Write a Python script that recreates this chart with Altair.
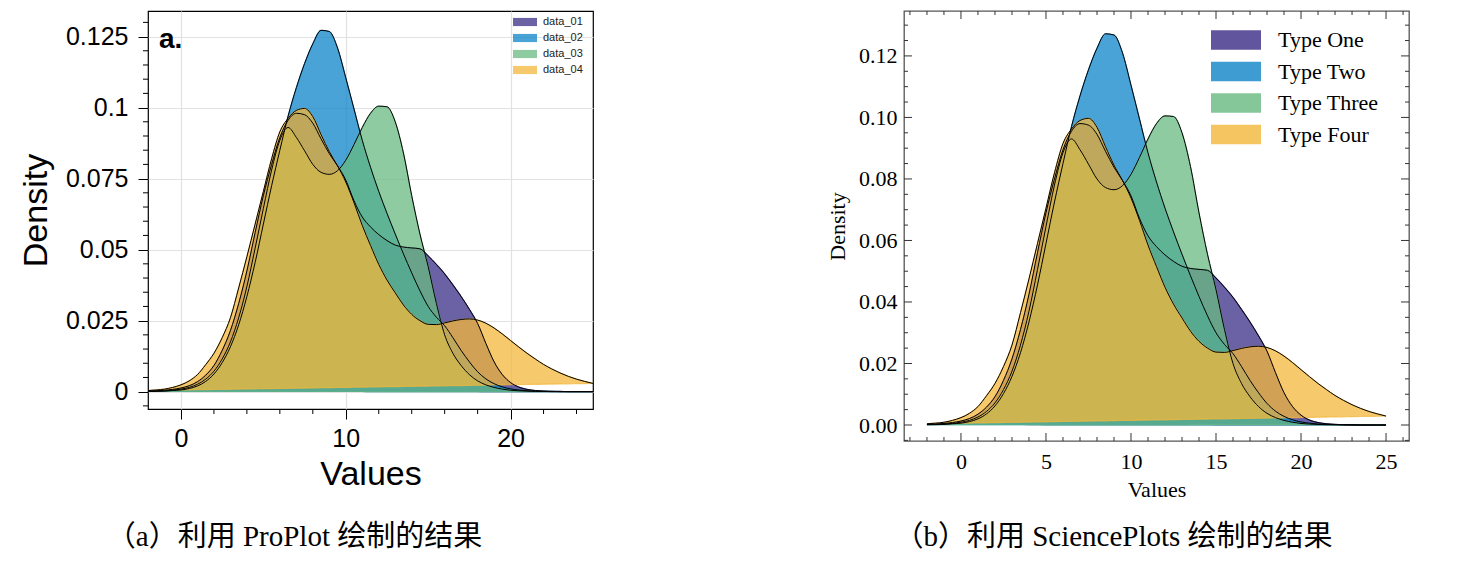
import altair as alt
import pandas as pd

# ---------------- data ----------------
x_vals = [-2.0, -1.5, -1.0, -0.5, 0.0, 0.5, 1.0, 1.5, 2.0, 2.5,
          3.0, 3.5, 4.0, 4.5, 5.0, 5.5, 6.0, 6.5, 7.0, 7.5,
          8.0, 8.5, 9.0, 9.5, 10.0, 10.5, 11.0, 11.5, 12.0, 12.5,
          13.0, 13.5, 14.0, 14.5, 15.0, 15.5, 16.0, 16.5, 17.0, 17.5,
          18.0, 18.5, 19.0, 19.5, 20.0, 20.5, 21.0, 21.5, 22.0, 22.5,
          23.0, 23.5, 24.0, 24.5, 25.0]

type_one = [0.0002, 0.0003, 0.0005, 0.0008, 0.0013, 0.0021, 0.0035, 0.0058, 0.0092, 0.0145,
            0.0215, 0.0310, 0.0425, 0.0560, 0.0690, 0.0800, 0.0895, 0.0955, 0.0980, 0.0975,
            0.0945, 0.0890, 0.0838, 0.0795, 0.0745, 0.0672, 0.0615, 0.0580, 0.0553, 0.0532,
            0.0516, 0.0509, 0.0506, 0.0503, 0.0478, 0.0448, 0.0415, 0.0376, 0.0335, 0.0290,
            0.0240, 0.0170, 0.0105, 0.0060, 0.0032, 0.0016, 0.0008, 0.0004, 0.0002, 0.0001,
            0.0001, 0.0000, 0.0000, 0.0000, 0.0000]

type_two = [0.0001, 0.0001, 0.0002, 0.0004, 0.0006, 0.0011, 0.0020, 0.0036, 0.0062, 0.0102,
            0.0158, 0.0235, 0.0335, 0.0455, 0.0590, 0.0725, 0.0850, 0.0970, 0.1070, 0.1155,
            0.1225, 0.1272, 0.1268, 0.1210, 0.1105, 0.0995, 0.0885, 0.0790, 0.0705, 0.0628,
            0.0555, 0.0485, 0.0418, 0.0355, 0.0300, 0.0262, 0.0232, 0.0190, 0.0145, 0.0105,
            0.0070, 0.0045, 0.0028, 0.0017, 0.0010, 0.0006, 0.0003, 0.0002, 0.0001, 0.0001,
            0.0000, 0.0000, 0.0000, 0.0000, 0.0000]

type_three = [0.0001, 0.0002, 0.0003, 0.0005, 0.0009, 0.0015, 0.0026, 0.0044, 0.0072, 0.0115,
              0.0175, 0.0260, 0.0370, 0.0505, 0.0645, 0.0780, 0.0885, 0.0930, 0.0895, 0.0848,
              0.0800, 0.0772, 0.0765, 0.0778, 0.0815, 0.0870, 0.0930, 0.0980, 0.1005, 0.1003,
              0.0950, 0.0840, 0.0690, 0.0555, 0.0440, 0.0310, 0.0200, 0.0135, 0.0092, 0.0060,
              0.0038, 0.0024, 0.0015, 0.0009, 0.0005, 0.0003, 0.0002, 0.0001, 0.0001, 0.0000,
              0.0000, 0.0000, 0.0000, 0.0000, 0.0000]

type_four = [0.0004, 0.0006, 0.0009, 0.0015, 0.0024, 0.0038, 0.0060, 0.0095, 0.0135, 0.0190,
             0.0260, 0.0365, 0.0475, 0.0590, 0.0705, 0.0820, 0.0915, 0.0962, 0.0990, 0.0997,
             0.0968, 0.0905, 0.0845, 0.0795, 0.0738, 0.0665, 0.0585, 0.0515, 0.0448, 0.0393,
             0.0348, 0.0305, 0.0272, 0.0250, 0.0237, 0.0236, 0.0242, 0.0249, 0.0254, 0.0256,
             0.0252, 0.0241, 0.0224, 0.0203, 0.0180, 0.0157, 0.0135, 0.0115, 0.0096, 0.0080,
             0.0066, 0.0054, 0.0044, 0.0036, 0.0029]

series_values = [type_one, type_two, type_three, type_four]
names_a = ["data_01", "data_02", "data_03", "data_04"]
names_b = ["Type One", "Type Two", "Type Three", "Type Four"]
fill_colors = ["#3a2c87", "#0e84c8", "#68ba80", "#f3b73b"]

# tick positions
a_x_major = [0, 10, 20]
a_x_minor = [2, 4, 6, 8, 12, 14, 16, 18, 22, 24]
a_y_major = [0, 0.025, 0.05, 0.075, 0.1, 0.125]
a_y_minor = [-0.005, 0.005, 0.01, 0.015, 0.02, 0.03, 0.035, 0.04, 0.045, 0.055, 0.06,
             0.065, 0.07, 0.08, 0.085, 0.09, 0.095, 0.105, 0.11, 0.115, 0.12, 0.13]
b_x_major = [0, 5, 10, 15, 20, 25]
b_x_minor = [-3, -2, -1, 1, 2, 3, 4, 6, 7, 8, 9, 11, 12, 13, 14, 16, 17, 18, 19,
             21, 22, 23, 24, 26]
b_y_major = [0, 0.02, 0.04, 0.06, 0.08, 0.10, 0.12]
b_y_minor = [-0.005, 0.005, 0.01, 0.015, 0.025, 0.03, 0.035, 0.045, 0.05, 0.055,
             0.065, 0.07, 0.075, 0.085, 0.09, 0.095, 0.105, 0.11, 0.115, 0.125, 0.13]

caption_a = "（a）利用 ProPlot 绘制的结果"
caption_b = "（b）利用 SciencePlots 绘制的结果"

SANS = "Liberation Sans"
SERIF = "Liberation Serif"
CAP_FONT = "Liberation Serif, Noto Sans CJK SC"


def make_df(names):
    rows = []
    x0, x1 = x_vals[0], x_vals[-1]
    for name, ys in zip(names, series_values):
        y0, y1 = ys[0], ys[-1]
        for x, y in zip(x_vals, ys):
            # polygon closes from the last point back to the first one
            base = y0 + (y1 - y0) * (x - x0) / (x1 - x0)
            rows.append({"x": x, "density": y, "base": base, "series": name})
    return pd.DataFrame(rows)


def density_layers(names, xs, ys, xaxis, yaxis, legend, stroke_legend):
    df = make_df(names)
    cs = alt.Scale(domain=names, range=fill_colors)
    X = alt.X("x:Q", scale=xs, axis=xaxis)
    Y = alt.Y("density:Q", scale=ys, axis=yaxis)
    layers = []
    for name in names:
        layers.append(
            alt.Chart(df)
            .transform_filter(alt.datum.series == name)
            .mark_area(interpolate="monotone", fillOpacity=0.75,
                       strokeOpacity=0.75, strokeWidth=1.2)
            .encode(x=X, y=Y, y2="base:Q",
                    color=alt.Color("series:N", scale=cs, legend=legend),
                    stroke=alt.Stroke("series:N", scale=cs, legend=stroke_legend))
        )
    layers.append(
        alt.Chart(df)
        .mark_line(interpolate="monotone", color="black", strokeWidth=1)
        .encode(x=X, y=Y, detail="series:N")
    )
    return layers


def xtick_rule(vals, y0, y1, xs, xaxis, color):
    return (alt.Chart(pd.DataFrame({"x": vals}))
            .mark_rule(color=color, strokeWidth=1)
            .encode(x=alt.X("x:Q", scale=xs, axis=xaxis),
                    y=alt.value(y0), y2=alt.value(y1)))


def ytick_rule(vals, x0, x1, ys, yaxis, color):
    return (alt.Chart(pd.DataFrame({"density": vals}))
            .mark_rule(color=color, strokeWidth=1)
            .encode(y=alt.Y("density:Q", scale=ys, axis=yaxis),
                    x=alt.value(x0), x2=alt.value(x1)))


# ---------------- panel (a): ProPlot style ----------------
A_W, A_H = 445, 398
xs_a = alt.Scale(domain=[-2, 25], nice=False, zero=False)
ys_a = alt.Scale(domain=[-0.0061, 0.134], nice=False, zero=False)
xaxis_a = alt.Axis(values=a_x_major, title="Values", grid=True, gridColor="#e2e2e2",
                   gridWidth=1.2, domain=False, ticks=True, tickSize=10, tickColor="black",
                   tickWidth=1, labelFont=SANS, labelFontSize=25, labelColor="black",
                   labelPadding=7, titleFont=SANS, titleFontSize=34,
                   titleFontWeight="normal", titleColor="black", titlePadding=6)
yaxis_a = alt.Axis(values=a_y_major, labelExpr="'' + datum.value", title="Density",
                   grid=True, gridColor="#e2e2e2", gridWidth=1.2, domain=False,
                   ticks=True, tickSize=10, tickColor="black", tickWidth=1,
                   labelFont=SANS, labelFontSize=25, labelColor="black",
                   labelPadding=10, titleFont=SANS, titleFontSize=34,
                   titleFontWeight="normal", titleColor="black", titlePadding=12)
legend_a = alt.Legend(title=None, orient="none", legendX=371, legendY=5,
                      symbolType="M-2,-0.68L2,-0.68L2,0.68L-2,0.68Z", symbolSize=144,
                      symbolStrokeWidth=0, symbolOpacity=0.75,
                      labelFont=SANS, labelFontSize=11, labelColor="#222",
                      labelOffset=12, rowPadding=5, padding=0)

layers_a = density_layers(names_a, xs_a, ys_a, xaxis_a, yaxis_a, legend_a, None)
layers_a += [
    xtick_rule(a_x_minor, A_H, A_H + 5, xs_a, xaxis_a, "black"),
    ytick_rule(a_y_minor, 0, -5, ys_a, yaxis_a, "black"),
    alt.Chart(pd.DataFrame({"label": ["a."]}))
    .mark_text(align="left", baseline="alphabetic", font=SANS, fontSize=28,
               fontWeight="bold", color="black")
    .encode(x=alt.value(11), y=alt.value(37), text="label:N"),
]

panel_a = alt.layer(*layers_a).properties(
    width=A_W, height=A_H,
    view=alt.ViewBackground(stroke="black", strokeWidth=1.2),
    title=alt.TitleParams(caption_a, orient="bottom", anchor="middle", frame="group",
                          dx=-76, offset=32, baseline="top", font=CAP_FONT,
                          fontSize=29, fontWeight="normal", color="black"),
)

# ---------------- panel (b): SciencePlots style ----------------
B_W, B_H = 505, 430
xs_b = alt.Scale(domain=[-3.35, 26.35], nice=False, zero=False)
ys_b = alt.Scale(domain=[-0.0052, 0.1346], nice=False, zero=False)
xaxis_b = alt.Axis(values=b_x_major, title="Values", grid=False, domain=False,
                   ticks=False, tickSize=0, labelFont=SERIF, labelFontSize=22,
                   labelColor="black", labelPadding=10, titleFont=SERIF,
                   titleFontSize=22, titleFontWeight="normal", titleColor="black",
                   titlePadding=7)
yaxis_b = alt.Axis(values=b_y_major, format=".2f", title="Density", grid=False,
                   domain=False, ticks=False, tickSize=0, labelFont=SERIF,
                   labelFontSize=22, labelColor="black", labelPadding=7,
                   titleFont=SERIF, titleFontSize=22, titleFontWeight="normal",
                   titleColor="black", titlePadding=9)
legend_b = alt.Legend(title=None, orient="none", legendX=319, legendY=16,
                      symbolType="M-2,-0.72L2,-0.72L2,0.72L-2,0.72Z", symbolSize=576,
                      symbolStrokeWidth=2, symbolOpacity=0.8,
                      labelFont=SERIF, labelFontSize=22, labelColor="black",
                      labelOffset=29, rowPadding=5.5, padding=0)

TICK_B = "#333333"
layers_b = density_layers(names_b, xs_b, ys_b, xaxis_b, yaxis_b, legend_b, legend_b)
layers_b += [
    xtick_rule(b_x_major, B_H, B_H - 8, xs_b, xaxis_b, TICK_B),
    xtick_rule(b_x_minor, B_H, B_H - 4, xs_b, xaxis_b, TICK_B),
    xtick_rule(b_x_major, 0, 8, xs_b, xaxis_b, TICK_B),
    xtick_rule(b_x_minor, 0, 4, xs_b, xaxis_b, TICK_B),
    ytick_rule(b_y_major, 0, 8, ys_b, yaxis_b, TICK_B),
    ytick_rule(b_y_minor, 0, 4, ys_b, yaxis_b, TICK_B),
    ytick_rule(b_y_major, B_W, B_W - 8, ys_b, yaxis_b, TICK_B),
    ytick_rule(b_y_minor, B_W, B_W - 4, ys_b, yaxis_b, TICK_B),
]

panel_b = alt.layer(*layers_b).properties(
    width=B_W, height=B_H,
    view=alt.ViewBackground(stroke="#555555", strokeWidth=1.3),
    title=alt.TitleParams(caption_b, orient="bottom", anchor="middle", frame="group",
                          dx=-43, offset=23, baseline="top", font=CAP_FONT,
                          fontSize=29, fontWeight="normal", color="black"),
)

chart = (
    alt.hconcat(panel_a, panel_b, spacing=229)
    .resolve_scale(x="independent", y="independent", color="independent",
                   stroke="independent")
    .resolve_legend(color="independent", stroke="independent")
    .properties(padding={"left": 10, "top": 1, "right": 0, "bottom": 0})
    .configure(background="white")
)

chart.save("out.html", embed_options={"renderer": "svg", "actions": False})
